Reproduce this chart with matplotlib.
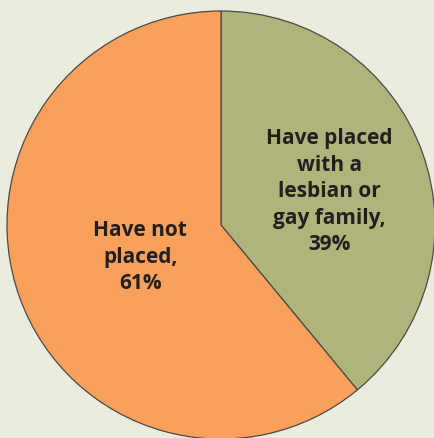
import matplotlib
matplotlib.use('Agg')
import matplotlib.pyplot as plt

# Share of agencies that have placed children with a lesbian or gay family
labels = ['Have placed\nwith a\nlesbian or\ngay family,\n39%', 'Have not\nplaced,\n61%']
shares = [39, 61]
colors = ['#B0B47A', '#F9A15A']

bg = '#ECECDE'
fig = plt.figure(figsize=(4.35, 4.38), dpi=100, facecolor=bg)
# pie centre at (221, 225) px, radius 214 px
r = 214
ax = fig.add_axes([(221 - r) / 435, (438 - 225 - r) / 438, 2 * r / 435, 2 * r / 438])
ax.set_facecolor(bg)

wedges, _ = ax.pie(shares, colors=colors, startangle=90, counterclock=False,
                   wedgeprops=dict(edgecolor='#4a4a4a', linewidth=0.9))
ax.set_xlim(-1, 1)
ax.set_ylim(-1, 1)
ax.set_aspect('auto')
ax.axis('off')

txt = dict(ha='center', va='center', fontsize=15, fontweight='bold',
           color='#231F20', family=['Open Sans', 'DejaVu Sans'], linespacing=1.34)
ax.text(0.505, 0.155, labels[0], **txt)
ax.text(-0.378, -0.15, labels[1], **txt)

fig.savefig('out.png', dpi=100, facecolor=bg)
